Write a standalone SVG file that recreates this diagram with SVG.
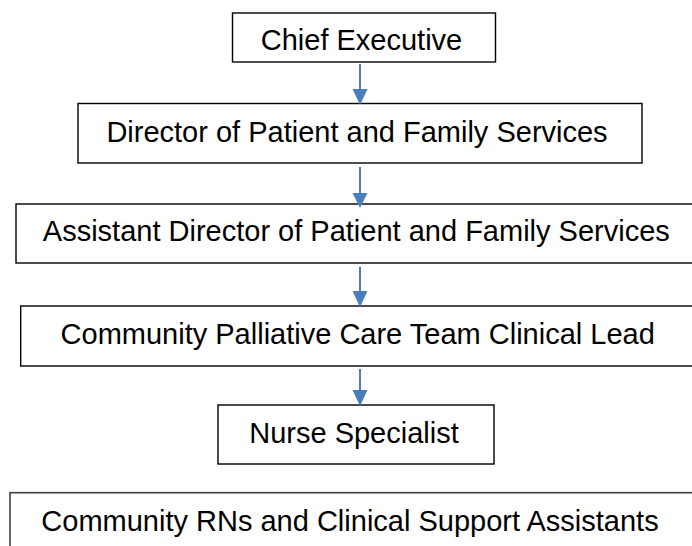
<svg xmlns="http://www.w3.org/2000/svg" width="692" height="546" viewBox="0 0 692 546">
<style>
.box{fill:#ffffff;stroke:#000000;stroke-width:1.4}
.lbl{font-family:"Liberation Sans",Arial,sans-serif;font-size:29px;fill:#000000;text-anchor:middle}
.cn{stroke:#4a7ebb;stroke-width:2;fill:none}
.hd{fill:#4a7ebb;stroke:none}
</style>
<rect width="692" height="546" fill="#ffffff"/>
<g id="n1"><rect class="box" x="232.5" y="13" width="263" height="49"/><text class="lbl" x="361.5" y="50">Chief Executive</text></g>
<g id="n2"><rect class="box" x="78" y="103.5" width="564" height="59.5"/><text class="lbl" x="357" y="142">Director of Patient and Family Services</text></g>
<g id="n3"><rect class="box" x="16" y="204" width="680" height="59"/><text class="lbl" x="356.3" y="241">Assistant Director of Patient and Family Services</text></g>
<g id="n4"><rect class="box" x="20.7" y="306" width="680" height="60"/><text class="lbl" x="357.7" y="344">Community Palliative Care Team Clinical Lead</text></g>
<g id="n5"><rect class="box" x="218" y="405" width="276" height="59"/><text class="lbl" x="354" y="443">Nurse Specialist</text></g>
<g id="n6"><rect class="box" style="stroke:#404040;stroke-width:1.6" x="10" y="492.7" width="690" height="70"/><text class="lbl" x="350" y="531">Community RNs and Clinical Support Assistants</text></g>
<g id="connectors">
<line class="cn" x1="360" y1="64" x2="360" y2="90"/><polygon class="hd" points="352.5,89 367.5,89 360,105"/>
<line class="cn" x1="360" y1="167" x2="360" y2="194"/><polygon class="hd" points="352.5,193 367.5,193 360,208"/>
<line class="cn" x1="360" y1="267" x2="360" y2="292"/><polygon class="hd" points="352.5,291 367.5,291 360,307"/>
<line class="cn" x1="360" y1="369" x2="360" y2="391"/><polygon class="hd" points="352.5,390 367.5,390 360,406"/>
</g>
</svg>
